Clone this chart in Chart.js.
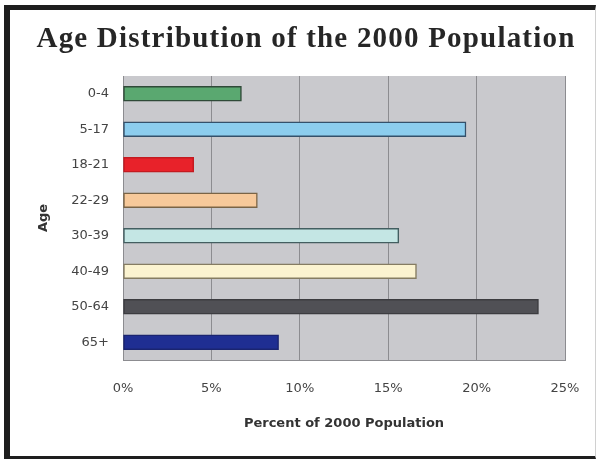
<!DOCTYPE html>
<html>
<head>
<meta charset="utf-8">
<script src="https://cdn.jsdelivr.net/npm/chart.js@4"></script>
<style>
  html, body { margin: 0; padding: 0; background: #ffffff; }
  #wrap { position: relative; width: 598px; height: 459px; overflow: hidden; }
  #frame { position: absolute; left: 4px; top: 5px; width: 592px; height: 454px; box-sizing: border-box;
           border-left: 6px solid #1e1e1e; border-top: 5px solid #1e1e1e; border-bottom: 3px solid #1e1e1e; border-right: 1px solid #d0d0d0; pointer-events: none; }
  canvas { position: absolute; left: 0; top: 0; }
</style>
</head>
<body>
<div id="wrap">
  <canvas id="c" width="598" height="459"></canvas>
  <div id="frame"></div>
</div>
<script>
const titleText = 'Age Distribution of the 2000 Population';
const categories = ['0-4', '5-17', '18-21', '22-29', '30-39', '40-49', '50-64', '65+'];
const percentValues = [6.7, 19.4, 4.0, 7.6, 15.6, 16.6, 23.5, 8.8];
const xTickValues = [0, 5, 10, 15, 20, 25];
const barColors = ['#5aa870', '#8ccdee', '#e8222a', '#f7c99a', '#c4e6e4', '#fbf3d0', '#505055', '#1f2e92'];
const barBorders = ['#2f4a38', '#34506a', '#c41a20', '#7a6446', '#435e60', '#857c62', '#3c3c40', '#1a2470'];

const bgPlugin = {
  id: 'plotBg',
  beforeDraw(chart) {
    const {ctx, chartArea: a} = chart;
    ctx.save();
    ctx.fillStyle = '#c9c9cd';
    ctx.fillRect(a.left, a.top, a.right - a.left, a.bottom - a.top);
    ctx.restore();
  }
};
const titlePlugin = {
  id: 'bigTitle',
  afterDraw(chart) {
    const ctx = chart.ctx;
    ctx.save();
    ctx.font = 'bold 29px "Liberation Serif", serif';
    if ('letterSpacing' in ctx) ctx.letterSpacing = '1.2px';
    ctx.fillStyle = '#262626';
    ctx.textAlign = 'center';
    ctx.textBaseline = 'middle';
    ctx.fillText(titleText, 306, 40);
    ctx.restore();
  }
};

new Chart(document.getElementById('c'), {
  type: 'bar',
  data: {
    labels: categories,
    datasets: [{
      data: percentValues,
      backgroundColor: barColors,
      borderColor: barBorders,
      borderWidth: 1.5,
      borderSkipped: false,
      barThickness: 15
    }]
  },
  options: {
    indexAxis: 'y',
    responsive: false,
    animation: false,
    devicePixelRatio: 1,
    layout: { padding: { top: 76, left: 0, right: 33, bottom: 0 } },
    plugins: { legend: { display: false }, tooltip: { enabled: false }, title: { display: false } },
    scales: {
      x: {
        min: 0, max: 25,
        afterFit(s) { s.height = 99; s.paddingLeft = 0; s.paddingRight = 0; },
        afterBuildTicks(s) { s.ticks = xTickValues.map(v => ({ value: v })); },
        grid: { color: '#8c8c90', lineWidth: 1, drawTicks: false },
        border: { display: true, color: '#8c8c90' },
        ticks: { padding: 21, color: '#444', font: { family: '"DejaVu Sans", sans-serif', size: 13 },
                 callback: v => v + '%' },
        title: { display: true, text: 'Percent of 2000 Population', color: '#333',
                 font: { family: '"DejaVu Sans", sans-serif', size: 13, weight: 'bold' },
                 padding: { top: 0, bottom: 28 } }
      },
      y: {
        afterFit(s) { s.width = 123; s.paddingTop = 0; s.paddingBottom = 0; },
        grid: { display: false, drawTicks: false },
        border: { display: true, color: '#8c8c90' },
        ticks: { padding: 14, color: '#444', font: { family: '"DejaVu Sans", sans-serif', size: 13 } },
        title: { display: true, text: 'Age', color: '#333',
                 font: { family: '"DejaVu Sans", sans-serif', size: 13, weight: 'bold' },
                 padding: { top: 36, bottom: 0 } }
      }
    }
  },
  plugins: [bgPlugin, titlePlugin]
});
</script>
</body>
</html>
